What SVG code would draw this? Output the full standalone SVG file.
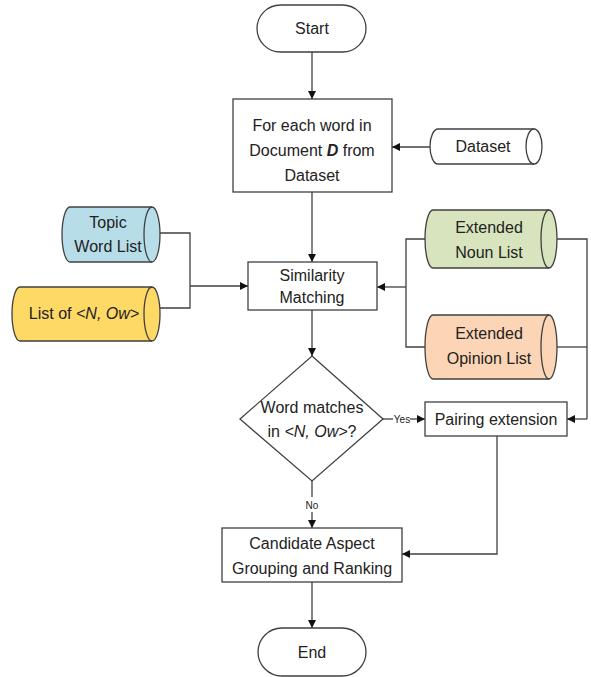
<svg xmlns="http://www.w3.org/2000/svg" width="591" height="677" viewBox="0 0 591 677">
<defs>
<marker id="arr" viewBox="0 0 10 10" refX="10" refY="5" markerWidth="8" markerHeight="8" markerUnits="userSpaceOnUse" orient="auto">
<path d="M0,0 L10,5 L0,10 Z" fill="#111"/>
</marker>
<style>
.shape{stroke:#404040;stroke-width:1.3;fill:#fff}
.t{font-family:"Liberation Sans",Arial,sans-serif;font-size:16px;fill:#222;text-anchor:middle}
.s{font-family:"Liberation Sans",Arial,sans-serif;font-size:10px;fill:#222;text-anchor:middle}
.c{stroke:#404040;stroke-width:1.3;fill:none}
.ca{stroke:#404040;stroke-width:1.3;fill:none;marker-end:url(#arr)}
</style>
</defs>
<rect width="591" height="677" fill="#fff"/>
<g id="connectors">
<path class="ca" d="M312,52 V99"/>
<path class="ca" d="M430,147 H392"/>
<path class="ca" d="M312,192 V262"/>
<path class="c" d="M160,233 H190 V308 H160"/>
<path class="ca" d="M190,286 H248"/>
<path class="c" d="M425,239 H406 V347 H425"/>
<path class="ca" d="M406,287 H377"/>
<path class="c" d="M557,239 H587 V419"/>
<path class="c" d="M557,347 H587"/>
<path class="ca" d="M587,419 H567"/>
<path class="ca" d="M312,310 V356"/>
<path class="c" d="M383,419 H393"/>
<path class="ca" d="M410,419 H425"/>
<text class="s" x="402" y="423">Yes</text>
<path class="c" d="M312,481 V497"/>
<path class="ca" d="M312,512 V528"/>
<text class="s" x="312" y="509">No</text>
<path class="ca" d="M497,436 V554 H402"/>
<path class="ca" d="M312,582 V628"/>
</g>
<g id="start">
<rect class="shape" x="257" y="5" width="109" height="47" rx="23.5"/>
<text class="t" x="312" y="34">Start</text>
</g>
<g id="foreach">
<rect class="shape" x="233" y="99" width="159" height="93"/>
<text class="t" x="312" y="131">For each word in</text>
<text class="t" x="312" y="156">Document <tspan font-weight="bold" font-style="italic">D</tspan> from</text>
<text class="t" x="312" y="181">Dataset</text>
</g>
<g id="dataset">
<path class="shape" d="M438,129 H534 A8,17.5 0 0 1 534,164 H438 A8,17.5 0 0 1 438,129 Z"/>
<path class="c" d="M534,129 A8,17.5 0 0 0 534,164"/>
<text class="t" x="483" y="152">Dataset</text>
</g>
<g id="topic">
<path class="shape" d="M70,207 H152 A8,27.5 0 0 1 152,262 H70 A8,27.5 0 0 1 70,207 Z" style="fill:#b7dde8"/>
<path class="c" d="M152,207 A8,27.5 0 0 0 152,262"/>
<text class="t" x="108" y="228">Topic</text>
<text class="t" x="108" y="252">Word List</text>
</g>
<g id="listnow">
<path class="shape" d="M20,287 H152 A8,27 0 0 1 152,341 H20 A8,27 0 0 1 20,287 Z" style="fill:#ffd966"/>
<path class="c" d="M152,287 A8,27 0 0 0 152,341"/>
<text class="t" x="84" y="319">List of <tspan font-style="italic">&lt;N, Ow&gt;</tspan></text>
</g>
<g id="similarity">
<rect class="shape" x="248" y="262" width="129" height="48"/>
<text class="t" x="312" y="281">Similarity</text>
<text class="t" x="312" y="303">Matching</text>
</g>
<g id="noun">
<path class="shape" d="M433,210 H549 A8,29 0 0 1 549,268 H433 A8,29 0 0 1 433,210 Z" style="fill:#d7e4bd"/>
<path class="c" d="M549,210 A8,29 0 0 0 549,268"/>
<text class="t" x="489" y="233">Extended</text>
<text class="t" x="489" y="258">Noun List</text>
</g>
<g id="opinion">
<path class="shape" d="M433,315 H549 A8,32 0 0 1 549,379 H433 A8,32 0 0 1 433,315 Z" style="fill:#fbd5b5"/>
<path class="c" d="M549,315 A8,32 0 0 0 549,379"/>
<text class="t" x="489" y="339">Extended</text>
<text class="t" x="489" y="364">Opinion List</text>
</g>
<g id="decision">
<path class="shape" d="M312,356 L383,419 L312,481 L240,419 Z"/>
<text class="t" x="312" y="413">Word matches</text>
<text class="t" x="312" y="437">in <tspan font-style="italic">&lt;N, Ow&gt;</tspan>?</text>
</g>
<g id="pairing">
<rect class="shape" x="425" y="402" width="142" height="34"/>
<text class="t" x="496" y="425">Pairing extension</text>
</g>
<g id="candidate">
<rect class="shape" x="222" y="528" width="180" height="54"/>
<text class="t" x="312" y="549">Candidate Aspect</text>
<text class="t" x="312" y="574">Grouping and Ranking</text>
</g>
<g id="end">
<rect class="shape" x="258" y="628" width="108" height="48" rx="24"/>
<text class="t" x="312" y="658">End</text>
</g>
</svg>
